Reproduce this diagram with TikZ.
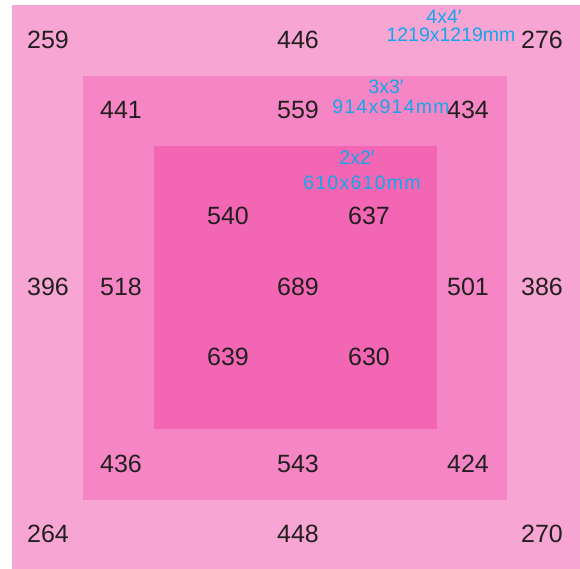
\documentclass[tikz,border=0pt]{standalone}
\usepackage{fontspec}
\setmainfont{Liberation Sans}
\newfontfamily\bluefont{Liberation Sans}
\newfontfamily\bluefontwide[LetterSpace=6.5]{Liberation Sans}
\definecolor{pinkA}{HTML}{F7A5D3}
\definecolor{pinkB}{HTML}{F585C4}
\definecolor{pinkC}{HTML}{F266B4}
\definecolor{labelblue}{HTML}{16A6E8}
\definecolor{numblack}{HTML}{231F20}
\begin{document}
\begin{tikzpicture}[x=1pt,y=-1pt,
  num/.style={inner sep=0pt,text=numblack,font=\fontsize{25}{25}\selectfont},
  sizelbl/.style={inner sep=0pt,text=labelblue,font=\fontsize{19.5}{19.5}\bluefont},
  sizelblw/.style={inner sep=0pt,text=labelblue,font=\fontsize{19.5}{19.5}\bluefontwide}]
\useasboundingbox (0,0) rectangle (580,569);
\fill[white] (0,0) rectangle (580,569);
\fill[pinkA] (12,5) rectangle (580,569);
\fill[pinkB] (83,76) rectangle (507,500);
\fill[pinkC] (154,146) rectangle (437,429);
% outer ring
\node[num] (n259) at (48,40) {259};
\node[num] (n446) at (298,40) {446};
\node[num] (n276) at (542,40) {276};
\node[num] (n396) at (48,287) {396};
\node[num] (n386) at (542,287) {386};
\node[num] (n264) at (48,534) {264};
\node[num] (n448) at (298,534) {448};
\node[num] (n270) at (542,534) {270};
% middle ring
\node[num] (n441) at (121,110) {441};
\node[num] (n559) at (298,110) {559};
\node[num] (n434) at (468,110) {434};
\node[num] (n518) at (121,287) {518};
\node[num] (n501) at (468,287) {501};
\node[num] (n436) at (121,464) {436};
\node[num] (n543) at (298,464) {543};
\node[num] (n424) at (468,464) {424};
% inner square
\node[num] (n540) at (228,216) {540};
\node[num] (n637) at (369,216) {637};
\node[num] (n689) at (298,287) {689};
\node[num] (n639) at (228,357) {639};
\node[num] (n630) at (369,357) {630};
% size labels
\node[sizelbl] (l4a) at (444,16.5) {4x4′};
\node[sizelbl] (l4b) at (451,35) {1219x1219mm};
\node[sizelbl] (l3a) at (386,87) {3x3′};
\node[sizelblw] (l3b) at (391,106.5) {914x914mm};
\node[sizelbl] (l2a) at (357,158) {2x2′};
\node[sizelblw] (l2b) at (362,182.5) {610x610mm};
\end{tikzpicture}
\end{document}
